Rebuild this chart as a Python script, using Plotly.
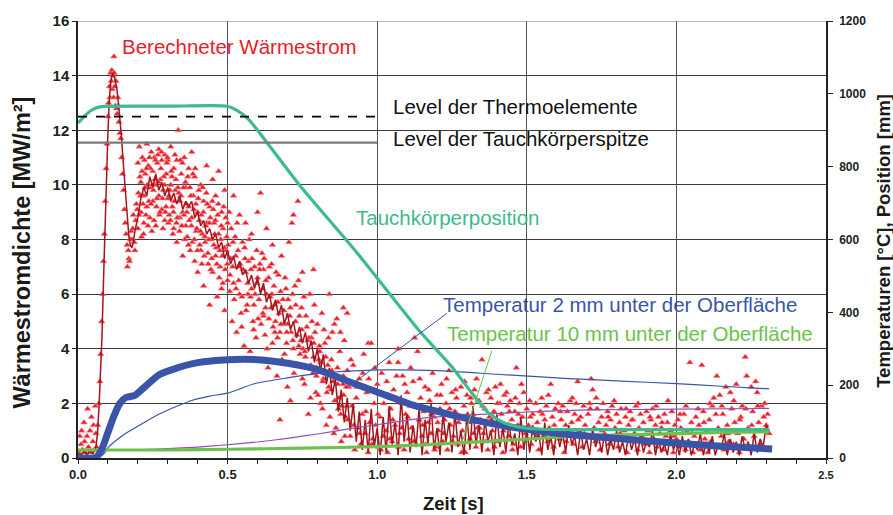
import plotly.graph_objects as go
import numpy as np

# ---------------- data ----------------
# calculated heat flux, smoothed line (t [s], q [MW/m2])
hf_line = [(0.00,0.15),(0.01,0.1),(0.02,0.25),(0.03,0.1),(0.04,0.3),(0.05,0.15),(0.06,0.4),(0.065,0.9),(0.07,1.8),(0.075,3.0),
    (0.08,4.4),(0.085,6.4),(0.09,8.4),(0.095,10.2),(0.10,11.9),(0.105,13.2),(0.11,13.8),(0.115,14.1),(0.12,14.0),(0.125,13.8),
    (0.13,13.5),(0.135,13.0),(0.14,12.5),(0.145,11.8),(0.15,11.0),(0.155,10.2),(0.16,9.4),(0.165,8.6),(0.17,8.1),(0.175,7.8),
    (0.18,7.7),(0.185,7.9),(0.19,8.3),(0.20,8.8),(0.21,9.5),(0.22,9.9),(0.23,9.6),(0.24,10.3),(0.25,9.9),(0.26,10.4),
    (0.27,9.8),(0.28,10.1),(0.29,9.6),(0.30,9.9),(0.31,9.4),(0.32,9.7),(0.33,9.3),(0.34,9.6),(0.35,9.1),(0.36,9.4),
    (0.37,9.2),(0.38,9.4),(0.39,8.8),(0.40,9.0),(0.41,8.5),(0.42,8.7),(0.43,8.2),(0.44,8.4),(0.45,8.0),(0.46,8.2),
    (0.47,7.7),(0.48,7.9),(0.49,7.3),(0.50,7.6),(0.51,7.1),(0.52,7.4),(0.53,6.9),(0.54,7.2),(0.55,6.7),(0.56,6.9),
    (0.57,6.4),(0.58,6.7),(0.59,6.2),(0.60,6.6),(0.61,6.0),(0.62,6.4),(0.63,5.7),(0.64,6.0),(0.65,5.4),(0.66,5.8),
    (0.67,5.2),(0.68,5.6),(0.69,4.9),(0.70,5.3),(0.71,4.7),(0.72,5.0),(0.73,4.4),(0.74,4.8),(0.75,4.2),(0.76,4.6),
    (0.77,3.9),(0.78,4.3),(0.79,3.5),(0.80,4.0),(0.81,3.2),(0.82,3.8),(0.83,2.7),(0.84,3.3),(0.85,2.3),(0.86,2.9),
    (0.87,1.7),(0.88,2.5),(0.89,1.3),(0.90,2.2),(0.91,1.0),(0.92,2.0),(0.93,0.6),(0.94,1.7),(0.95,0.3),(0.96,1.4),
    (0.97,0.2),(0.98,1.8),(0.99,0.4),(1.00,1.1),(1.01,0.1),(1.02,1.5),(1.03,0.2),(1.04,1.9),(1.05,0.5),(1.06,1.3),
    (1.07,0.1),(1.08,2.3),(1.09,0.6),(1.10,1.6),(1.11,0.2),(1.12,1.2),(1.13,0.4),(1.14,1.8),(1.15,0.1),(1.16,1.4),
    (1.17,0.5),(1.18,2.0),(1.19,0.3),(1.20,1.1),(1.21,0.1),(1.22,1.6),(1.23,0.6),(1.24,1.3),(1.25,0.2),(1.26,1.7),
    (1.27,0.4),(1.28,1.0),(1.29,0.1),(1.30,1.5),(1.31,0.3),(1.32,1.9),(1.33,0.5),(1.34,1.2),(1.35,0.2),(1.36,1.4),
    (1.37,0.6),(1.38,1.0),(1.39,0.1),(1.40,1.6),(1.41,0.4),(1.42,1.1),(1.43,0.2),(1.44,1.3),(1.45,0.5),(1.46,0.9),
    (1.47,0.1),(1.48,1.5),(1.49,0.3),(1.50,1.0),(1.51,0.2),(1.52,1.2),(1.53,0.6),(1.54,0.9),(1.55,0.1),(1.56,1.3),
    (1.57,0.3),(1.58,0.8),(1.59,0.1),(1.60,1.1),(1.61,0.4),(1.62,0.9),(1.63,0.2),(1.64,1.2),(1.65,0.5),(1.66,0.8),
    (1.67,0.1),(1.68,1.0),(1.69,0.3),(1.70,0.7),(1.71,0.1),(1.72,1.1),(1.73,0.4),(1.74,0.8),(1.75,0.2),(1.76,0.9),
    (1.77,0.1),(1.78,0.7),(1.79,0.3),(1.80,1.0),(1.81,0.2),(1.82,0.6),(1.83,0.1),(1.84,0.9),(1.85,0.3),(1.86,0.7),
    (1.87,0.1),(1.88,0.8),(1.89,0.2),(1.90,0.6),(1.91,0.4),(1.92,1.0),(1.93,0.1),(1.94,0.7),(1.95,0.2),(1.96,0.5),
    (1.97,0.1),(1.98,0.9),(1.99,0.3),(2.00,0.6),(2.01,0.1),(2.02,0.8),(2.03,0.2),(2.04,0.7),(2.05,0.1),(2.06,0.5),
    (2.07,0.3),(2.08,0.9),(2.09,0.1),(2.10,0.6),(2.11,0.2),(2.12,0.8),(2.13,0.1),(2.14,0.5),(2.15,0.3),(2.16,0.9),
    (2.17,0.1),(2.18,0.7),(2.19,0.2),(2.20,0.6),(2.21,0.1),(2.22,0.8),(2.23,0.3),(2.24,0.6),(2.25,0.1),(2.26,0.9),
    (2.27,0.2),(2.28,0.7),(2.29,0.4),(2.30,1.2),(2.31,1.0)]

# calculated heat flux, raw points (t [s], q [MW/m2])
hf_points = [
    (0.003,0.2),(0.006,0.8),(0.008,0.1),(0.01,0.5),(0.012,1.0),(0.015,0.3),(0.02,1.3),(0.022,0.6),(0.025,0.2),(0.03,0.8),
    (0.032,1.8),(0.035,0.4),(0.04,1.0),(0.042,0.2),(0.045,1.5),(0.05,0.6),(0.052,1.2),(0.055,0.3),(0.058,1.9),(0.06,0.9),
    (0.062,0.4),(0.066,1.2),(0.07,2.0),(0.073,2.8),(0.076,3.8),(0.079,5.0),(0.082,6.0),(0.085,7.2),(0.088,8.2),(0.091,9.4),
    (0.094,10.6),(0.097,11.5),(0.10,12.5),(0.102,13.0),(0.105,13.6),(0.107,13.2),(0.109,14.1),(0.111,13.8),(0.113,14.2),(0.115,13.5),
    (0.117,14.0),(0.119,13.2),(0.12,14.7),(0.121,14.1),(0.123,13.6),(0.125,12.9),(0.127,13.8),(0.129,12.8),(0.131,12.6),(0.133,13.2),
    (0.135,12.9),(0.137,12.3),(0.14,11.9),(0.143,11.7),(0.146,11.0),(0.149,10.4),(0.152,9.8),(0.155,9.1),(0.158,8.6),(0.161,8.2),
    (0.164,7.8),(0.165,7.0),(0.168,7.6),(0.17,7.3),(0.172,7.2),(0.175,8.0),(0.178,8.3),(0.18,8.0),(0.185,8.9),(0.19,7.6),
    (0.195,9.3),(0.20,8.4),(0.20,10.8),(0.205,11.4),(0.21,9.0),(0.21,10.1),(0.215,11.0),(0.22,9.6),(0.22,8.6),(0.225,10.4),
    (0.23,11.5),(0.23,9.2),(0.235,10.7),(0.24,9.9),(0.24,8.8),(0.245,11.2),(0.25,10.5),(0.25,9.4),(0.255,11.0),(0.26,10.0),
    (0.26,8.5),(0.265,10.8),(0.27,9.6),(0.27,11.3),(0.275,10.2),(0.28,9.1),(0.28,10.9),(0.285,9.8),(0.29,11.1),(0.29,8.7),
    (0.295,10.4),(0.30,9.5),(0.30,10.9),(0.305,8.9),(0.31,11.4),(0.31,10.0),(0.315,9.2),(0.32,10.6),(0.32,8.4),(0.325,9.8),
    (0.33,10.9),(0.33,7.9),(0.335,12.0),(0.34,9.4),(0.34,8.8),(0.345,10.4),(0.35,9.0),(0.35,7.4),(0.355,11.0),(0.36,8.5),
    (0.36,9.9),(0.365,8.1),(0.37,10.6),(0.37,9.2),(0.375,7.6),(0.38,11.2),(0.38,8.8),(0.385,9.6),(0.39,7.2),(0.39,10.3),
    (0.395,8.3),(0.40,9.0),(0.40,6.8),(0.405,8.7),(0.41,10.0),(0.41,7.6),(0.415,8.2),(0.42,9.4),(0.42,6.3),(0.425,7.9),
    (0.43,10.7),(0.43,8.6),(0.435,7.1),(0.44,9.2),(0.44,5.6),(0.445,8.0),(0.45,10.2),(0.45,6.8),(0.455,8.6),(0.46,7.4),
    (0.46,9.6),(0.465,5.9),(0.47,8.2),(0.47,10.5),(0.475,7.0),(0.48,9.0),(0.48,6.2),(0.485,8.4),(0.49,9.8),(0.49,5.4),
    (0.495,7.6),(0.50,8.6),(0.50,6.5),(0.505,9.0),(0.51,7.3),(0.515,5.0),(0.52,9.6),(0.52,6.4),(0.525,8.1),(0.53,4.6),
    (0.535,7.6),(0.54,8.9),(0.54,6.0),(0.545,5.3),(0.55,7.9),(0.555,4.1),(0.56,6.8),(0.56,8.6),(0.565,5.6),(0.57,7.2),
    (0.575,3.9),(0.58,6.2),(0.58,8.2),(0.585,5.0),(0.59,7.0),(0.595,4.4),(0.60,6.6),(0.60,9.0),(0.605,5.8),(0.61,9.7),
    (0.61,3.6),(0.615,7.5),(0.62,5.2),(0.62,6.9),(0.625,4.5),(0.63,8.4),(0.63,6.0),(0.635,3.3),(0.64,7.0),(0.645,5.5),
    (0.65,4.2),(0.65,7.8),(0.655,6.3),(0.66,5.0),(0.665,3.0),(0.67,6.7),(0.675,1.4),(0.675,4.6),(0.68,7.4),(0.685,5.8),
    (0.69,3.8),(0.695,6.2),(0.70,4.9),(0.70,2.6),(0.705,7.9),(0.71,5.5),(0.71,2.1),(0.715,8.6),(0.72,8.9),(0.72,4.0),
    (0.725,6.3),(0.73,3.4),(0.735,9.4),(0.74,5.2),(0.745,4.3),(0.75,6.8),(0.75,2.9),(0.755,5.9),(0.76,3.7),(0.765,4.8),
    (0.77,1.6),(0.775,6.0),(0.78,4.4),(0.785,3.1),(0.787,6.9),(0.79,5.6),(0.795,2.4),(0.80,4.9),(0.805,3.6),(0.81,2.0),
    (0.815,5.3),(0.82,2.9),(0.825,4.2),(0.83,1.2),(0.835,3.4),(0.84,6.0),(0.845,2.5),(0.85,4.6),(0.855,0.9),(0.86,3.0),
    (0.865,5.1),(0.87,1.8),(0.875,3.9),(0.88,0.6),(0.885,2.7),(0.887,5.5),(0.89,4.3),(0.895,1.5),(0.90,3.2),(0.90,5.3),
    (0.905,2.6),(0.91,0.8),(0.915,1.9),(0.92,3.4),(0.925,0.3),(0.93,2.2),(0.935,1.1),(0.94,2.9),(0.945,0.5),(0.95,1.6),
    (0.955,3.8),(0.96,0.9),(0.965,2.4),(0.97,0.2),(0.97,4.2),(0.975,1.3),(0.98,4.2),(0.985,0.7),(0.99,2.0),(0.995,1.2),
    (1.00,2.7),(1.005,0.4),(1.01,1.5),(1.015,3.1),(1.02,0.8),(1.025,2.3),(1.03,1.0),(1.035,0.2),(1.04,3.5),(1.045,1.8),
    (1.05,0.6),(1.055,2.5),(1.06,1.2),(1.065,3.0),(1.07,3.5),(1.07,4.0),(1.075,0.9),(1.08,2.0),(1.085,3.0),(1.09,0.3),
    (1.095,1.6),(1.10,2.4),(1.105,0.7),(1.11,1.9),(1.115,1.1),(1.12,2.8),(1.125,4.4),(1.13,0.5),(1.135,3.9),(1.14,1.4),
    (1.145,2.2),(1.15,0.8),(1.155,1.7),(1.16,2.6),(1.165,0.2),(1.17,1.3),(1.175,2.1),(1.18,0.9),(1.185,3.1),(1.19,1.5),
    (1.195,0.4),(1.20,2.3),(1.205,1.0),(1.21,1.8),(1.215,2.7),(1.22,0.6),(1.225,1.4),(1.23,2.0),(1.235,0.3),(1.24,3.2),
    (1.245,1.2),(1.25,2.4),(1.255,0.8),(1.26,1.7),(1.265,2.2),(1.27,0.5),(1.275,1.5),(1.28,2.6),(1.285,1.0),(1.29,1.9),
    (1.295,0.2),(1.30,2.3),(1.305,1.3),(1.31,0.7),(1.315,2.0),(1.32,1.6),(1.325,2.5),(1.33,0.4),(1.335,1.1),(1.34,2.1),
    (1.345,1.4),(1.35,3.6),(1.355,0.9),(1.36,1.8),(1.365,2.4),(1.37,0.3),(1.375,1.5),(1.38,2.2),(1.385,1.0),(1.39,1.7),
    (1.395,2.6),(1.40,0.6),(1.405,1.3),(1.41,2.0),(1.415,1.6),(1.42,0.2),(1.425,2.3),(1.43,1.1),(1.435,1.9),(1.44,0.8),
    (1.445,2.1),(1.45,1.4),(1.455,0.5),(1.46,1.7),(1.465,3.3),(1.47,1.2),(1.475,2.0),(1.48,0.4),(1.485,1.5),(1.49,2.4),
    (1.495,0.9),(1.50,1.8),(1.505,1.2),(1.51,2.1),(1.515,0.5),(1.52,1.6),(1.525,0.9),(1.53,2.0),(1.535,1.3),(1.54,0.3),
    (1.545,1.7),(1.55,2.2),(1.555,0.8),(1.56,1.4),(1.565,1.9),(1.57,0.6),(1.575,1.1),(1.58,2.7),(1.585,1.5),(1.59,0.4),
    (1.595,1.8),(1.60,1.0),(1.605,2.0),(1.61,0.7),(1.615,1.4),(1.62,1.9),(1.625,0.2),(1.63,1.2),(1.635,1.7),(1.64,0.9),
    (1.645,2.1),(1.65,1.3),(1.655,0.5),(1.66,1.6),(1.665,2.0),(1.67,2.8),(1.675,1.0),(1.68,1.5),(1.685,0.4),(1.69,1.9),
    (1.695,1.2),(1.70,0.8),(1.705,1.6),(1.71,2.0),(1.715,2.9),(1.72,2.5),(1.725,1.1),(1.73,0.6),(1.735,1.8),(1.74,1.3),
    (1.745,0.3),(1.75,1.5),(1.755,2.0),(1.76,0.9),(1.765,1.2),(1.77,1.7),(1.775,0.5),(1.78,1.4),(1.785,1.9),(1.79,0.8),
    (1.795,1.1),(1.80,1.6),(1.805,0.4),(1.81,1.3),(1.815,1.8),(1.82,0.7),(1.825,1.0),(1.83,1.5),(1.835,0.2),(1.84,1.2),
    (1.845,1.7),(1.85,0.6),(1.855,1.4),(1.86,0.9),(1.865,1.9),(1.87,0.3),(1.875,1.1),(1.88,1.6),(1.885,0.8),(1.89,1.3),
    (1.895,0.5),(1.90,1.7),(1.905,1.0),(1.91,0.2),(1.915,1.4),(1.92,1.8),(1.925,0.7),(1.93,1.2),(1.935,0.4),(1.94,1.5),
    (1.945,0.9),(1.95,1.1),(1.955,0.3),(1.96,1.6),(1.965,0.8),(1.97,1.3),(1.975,0.5),(1.98,1.0),(1.985,1.7),(1.99,0.2),
    (1.995,1.2),(2.00,0.7),(2.005,1.4),(2.01,0.4),(2.015,1.1),(2.02,0.9),(2.025,1.6),(2.03,0.3),(2.035,1.0),(2.04,0.6),
    (2.045,3.5),(2.05,1.3),(2.055,0.2),(2.06,0.8),(2.065,1.5),(2.07,0.5),(2.075,1.2),(2.08,0.3),(2.085,3.4),(2.09,1.7),
    (2.095,0.7),(2.10,1.0),(2.105,0.2),(2.11,1.4),(2.115,0.6),(2.12,1.9),(2.125,2.2),(2.13,0.4),(2.135,3.0),(2.14,1.1),
    (2.145,2.3),(2.15,0.8),(2.155,1.6),(2.16,0.3),(2.165,2.6),(2.17,1.2),(2.175,0.6),(2.18,2.4),(2.185,1.8),(2.19,0.5),
    (2.195,1.3),(2.20,2.7),(2.205,0.9),(2.21,0.2),(2.215,1.5),(2.22,1.9),(2.225,0.7),(2.23,3.7),(2.235,3.0),(2.24,1.1),
    (2.245,0.4),(2.25,2.6),(2.255,1.7),(2.26,0.8),(2.265,2.8),(2.27,2.4),(2.275,1.3),(2.28,0.5),(2.285,1.9),(2.29,1.0),
    (2.295,2.0),(2.30,1.2),(2.305,1.6),(2.31,0.9)]

# further raw points read from the denser parts of the cloud
hf_points_dense = [
    (0.202,9.7),(0.207,10.3),(0.212,8.1),(0.217,9.3),(0.222,10.9),(0.227,8.9),(0.232,10.0),(0.237,9.4),(0.242,10.6),(0.247,8.3),
    (0.252,9.8),(0.257,10.2),(0.262,9.2),(0.267,11.1),(0.272,8.9),(0.277,10.6),(0.282,9.5),(0.287,10.3),(0.292,9.0),(0.297,10.8),
    (0.302,8.6),(0.307,9.8),(0.312,10.5),(0.317,8.2),(0.322,9.4),(0.327,10.2),(0.332,8.8),(0.337,9.7),(0.342,10.9),(0.347,8.5),
    (0.352,9.9),(0.357,8.0),(0.362,9.3),(0.367,10.3),(0.372,8.7),(0.377,9.6),(0.382,7.9),(0.387,9.1),(0.392,10.6),(0.397,8.4),
    (0.402,9.5),(0.407,7.8),(0.412,8.9),(0.417,9.9),(0.422,7.4),(0.427,8.5),(0.432,9.3),(0.437,8.0),(0.442,8.8),(0.447,7.3),
    (0.452,9.1),(0.457,8.2),(0.462,7.7),(0.467,8.9),(0.472,6.6),(0.477,8.0),(0.482,7.4),(0.487,9.2),(0.492,6.9),(0.497,8.1),
    (0.502,7.8),(0.507,6.1),(0.512,8.4),(0.517,7.0),(0.522,5.8),(0.527,7.4),(0.532,8.6),(0.537,6.5),(0.542,7.1),(0.547,4.8),
    (0.552,6.9),(0.557,7.7),(0.562,5.4),(0.567,6.4),(0.572,8.0),(0.577,5.9),(0.582,7.3),(0.587,4.7),(0.592,6.0),(0.597,7.6),
    (0.602,5.1),(0.607,6.9),(0.612,4.9),(0.617,6.2),(0.622,7.3),(0.627,5.5),(0.632,4.0),(0.637,6.6),(0.642,5.9),(0.647,7.1),
    (0.652,4.8),(0.657,5.6),(0.662,6.8),(0.667,4.4),(0.672,5.3),(0.677,6.1),(0.682,3.6),(0.687,4.9),(0.692,6.6),(0.697,4.2),
    (0.702,5.8),(0.707,3.5),(0.712,4.6),(0.717,6.0),(0.722,3.1),(0.727,5.0),(0.732,4.5),(0.737,6.5),(0.742,3.8),(0.747,5.5),
    (0.752,4.0),(0.757,2.7),(0.762,5.2),(0.767,3.3),(0.772,4.4),(0.777,2.2),(0.782,5.0),(0.787,3.7),(0.792,4.6),(0.797,3.0),
    (0.802,2.3),(0.807,4.1),(0.812,3.5),(0.817,1.8),(0.822,4.7),(0.827,3.1),(0.832,2.4),(0.837,4.4),(0.842,1.5),(0.847,3.6),
    (0.852,2.8),(0.857,4.9),(0.862,1.1),(0.867,3.3),(0.872,2.2),(0.877,4.6),(0.882,1.9),(0.887,3.0),(0.892,0.8),(0.897,2.6),
    (0.902,1.4),(0.912,3.6),(0.922,1.2),(0.932,2.6),(0.942,0.9),(0.952,3.1),(0.962,1.7),(0.972,2.9),(0.982,0.5),(0.992,3.3),
    (1.002,1.6),(1.012,0.3),(1.022,2.0),(1.032,2.8),(1.042,0.7),(1.052,1.4),(1.062,2.2),(1.072,0.4),(1.082,1.1),(1.092,2.7),
    (1.102,1.5),(1.112,3.3),(1.122,0.6),(1.132,1.9),(1.142,2.9),(1.152,1.2),(1.162,0.5),(1.172,2.5),(1.182,1.6),(1.192,0.3),
    (1.202,1.3),(1.212,2.3),(1.222,0.9),(1.232,2.9),(1.242,1.8),(1.252,0.6),(1.262,2.5),(1.272,1.3),(1.282,0.2),(1.292,2.8),
    (1.302,1.6),(1.312,2.2),(1.322,0.9),(1.332,2.9),(1.342,1.1),(1.352,1.9),(1.362,0.6),(1.372,2.5),(1.382,1.4),(1.392,0.4),
    (1.402,2.0),(1.412,2.7),(1.422,1.0),(1.432,2.4),(1.442,1.7),(1.452,0.3),(1.462,2.2),(1.472,1.6),(1.482,2.7),(1.492,1.0),
    (1.512,1.5),(1.532,0.8),(1.552,1.6),(1.572,2.3),(1.592,1.2),(1.612,1.7),(1.632,0.6),(1.652,2.2),(1.672,1.4),(1.692,0.9),
    (1.712,1.8),(1.732,2.2),(1.752,1.0),(1.772,1.5),(1.792,2.1),(1.812,0.9),(1.832,1.8),(1.852,1.4),(1.872,2.0),(1.892,0.7),
    (1.912,1.5),(1.932,1.9),(1.952,1.3),(1.972,2.1),(1.992,0.8),(2.012,1.6),(2.032,1.9),(2.052,0.9),(2.072,1.8),(2.092,1.3),
    (2.112,2.0),(2.132,1.6),(2.152,1.9),(2.172,0.9),(2.192,2.1),(2.212,1.4),(2.232,1.8),(2.252,1.2),(2.272,1.9),(2.292,1.5),
    (0.183,8.4),(0.188,7.9),(0.193,8.7),(0.198,9.1),(0.204,8.9),(0.209,9.6),(0.214,10.5),(0.219,8.2),(0.224,9.9),(0.229,10.6),
    (0.234,8.5),(0.239,11.0),(0.244,9.3),(0.249,10.0),(0.254,8.7),(0.259,10.9),(0.264,9.5),(0.269,10.1),(0.274,9.0),(0.279,11.2),
    (0.284,8.4),(0.289,10.0),(0.294,9.2),(0.299,11.0),(0.304,9.6),(0.309,8.7),(0.314,10.3),(0.319,9.0),(0.324,11.1),(0.329,8.6),
    (0.334,9.9),(0.339,8.3),(0.344,9.6),(0.349,10.8),(0.354,8.9),(0.359,10.1),(0.364,9.0),(0.369,7.8),(0.374,9.9),(0.379,8.5),
    (0.384,10.4),(0.389,8.0),(0.394,9.3),(0.399,7.6),(0.404,9.8),(0.409,8.3),(0.414,7.1),(0.419,9.0),(0.424,8.1),(0.429,9.7),
    (0.434,7.5),(0.439,8.6),(0.444,6.9),(0.449,9.4),(0.454,7.8),(0.459,8.7),(0.464,7.1),(0.469,9.3),(0.474,7.6),(0.479,8.5),
    (0.484,6.4),(0.489,7.7),(0.494,8.8),(0.499,7.1),(0.508,6.7),(0.518,7.9),(0.528,6.2),(0.538,7.0),(0.548,5.9),(0.558,7.3),
    (0.568,6.0),(0.578,6.9),(0.588,5.6),(0.598,6.4),(0.608,7.1),(0.618,5.3),(0.628,6.5),(0.638,5.1),(0.648,6.0),(0.658,4.6),
    (0.668,5.7),(0.678,4.9),(0.688,5.4),(0.698,4.6),(0.708,5.2),(0.718,4.3),(0.728,5.6),(0.738,4.1),(0.748,4.7),(0.758,3.9),
    (0.768,4.3),(0.778,3.4),(0.788,4.2),(0.798,3.3),(0.808,3.9),(0.818,2.8),(0.828,3.7),(0.838,2.6),(0.848,3.2),(0.858,2.1),
    (0.868,2.7),(0.878,1.6),(0.888,2.3),(0.898,1.9)]

# probe position [mm]
probe_pos = [(0.0,920),(0.02,937),(0.04,952),(0.06,961),(0.08,965),(0.3,966),(0.5,966),(0.53,955),(0.57,930),(0.63,868),
    (0.74,750),(0.93,566),(1.14,350),(1.25,250),(1.31,185),(1.37,125),(1.42,98),(1.48,84),(1.55,79),(1.7,78),(2.0,78),(2.31,78)]
# temperature 2 mm below surface [°C]
temp_2mm = [(0.0,0),(0.06,2),(0.08,25),(0.10,70),(0.12,115),(0.14,150),(0.16,166),(0.19,172),(0.22,193),(0.27,228),
    (0.33,247),(0.40,262),(0.50,270),(0.60,270),(0.70,260),(0.80,243),(0.87,222),(0.92,205),(1.03,172),(1.12,145),
    (1.24,120),(1.35,100),(1.47,82),(1.60,68),(1.75,57),(1.90,47),(2.05,38),(2.20,30),(2.32,25)]
# further thermocouple (thin blue) [°C]
temp_tc_a = [(0.0,0),(0.07,2),(0.09,15),(0.10,28),(0.13,50),(0.16,68),(0.22,97),(0.27,120),(0.33,142),(0.38,158),
    (0.44,170),(0.50,178),(0.59,204),(0.70,220),(0.81,233),(0.92,239),(1.03,242),(1.20,240),(1.40,230),(1.64,218),
    (1.80,212),(2.00,204),(2.15,197),(2.31,190)]
# further thermocouple (purple) [°C]
temp_tc_b = [(0.0,22),(0.2,23),(0.3,26),(0.4,30),(0.48,35),(0.6,44),(0.7,54),(0.8,66),(0.92,82),(1.03,95),(1.12,106),
    (1.2,113),(1.3,118),(1.42,123),(1.55,128),(1.7,132),(2.0,134),(2.31,136)]
# temperature 10 mm below surface [°C]
temp_10mm = [(0.0,22),(0.3,22),(0.5,24),(0.75,27),(1.0,31),(1.2,38),(1.35,45),(1.5,52),(1.65,59),(1.8,63),(2.0,67),
    (2.15,70),(2.31,72)]

level_thermo = 12.5      # MW/m2 scale
level_tip = 11.55
level_end_t = 1.0

x_ticks = [0.0, 0.5, 1.0, 1.5, 2.0, 2.5]
y_ticks = [0, 2, 4, 6, 8, 10, 12, 14, 16]
y2_ticks = [0, 200, 400, 600, 800, 1000, 1200]

# ---------------- figure ----------------
def xy(pairs):
    return [p[0] for p in pairs], [p[1] for p in pairs]

FONT = "Liberation Sans, Arial, Helvetica, sans-serif"
RED = "#e8202a"
DARKRED = "#a3161c"
TEAL = "#3dbb8c"
BLUE = "#3a55a7"
GREEN = "#6cc24a"
PURPLE = "#8e4fb2"

fig = go.Figure()

px_, py_ = xy(hf_points + hf_points_dense)
fig.add_trace(go.Scatter(x=px_, y=py_, mode="markers", yaxis="y",
                         marker=dict(symbol="triangle-up", size=6, color=RED, line=dict(width=0.6, color="#f39aa0"))))
lx, ly = xy(hf_line)
fig.add_trace(go.Scatter(x=lx, y=ly, mode="lines", yaxis="y", line=dict(color=DARKRED, width=1.5)))

for pairs, col, w in [(temp_tc_b, PURPLE, 1.2), (temp_tc_a, BLUE, 1.2), (temp_10mm, GREEN, 3.2),
                      (temp_2mm, BLUE, 7), (probe_pos, TEAL, 3.2)]:
    tx, ty = xy(pairs)
    fig.add_trace(go.Scatter(x=tx, y=ty, mode="lines", yaxis="y2", line=dict(color=col, width=w, shape="spline", smoothing=0.6)))

shapes = [
    dict(type="line", xref="x", yref="y", x0=0, x1=level_end_t, y0=level_thermo, y1=level_thermo,
         line=dict(color="black", width=1.6, dash="dash")),
    dict(type="line", xref="x", yref="y", x0=0, x1=level_end_t, y0=level_tip, y1=level_tip,
         line=dict(color="#7a7a7a", width=2.2)),
    dict(type="line", xref="x", yref="y", x0=0, x1=2.5, y0=16, y1=16, line=dict(color="#7a7a7a", width=1)),
]
# leader lines from labels to curves
t2x, t2y = xy(temp_2mm)
t10x, t10y = xy(temp_10mm)
lead_2mm_t = 0.92
lead_10mm_t = 1.283
shapes.append(dict(type="line", xref="x", yref="y", x0=1.233, y0=5.3, x1=lead_2mm_t,
                   y1=float(np.interp(lead_2mm_t, t2x, t2y)) / 75, line=dict(color=BLUE, width=1)))
shapes.append(dict(type="line", xref="x", yref="y", x0=1.383, y0=3.92, x1=lead_10mm_t,
                   y1=float(np.interp(lead_10mm_t, t10x, t10y)) / 75, line=dict(color=GREEN, width=1)))

ann = [
    dict(text="Berechneter Wärmestrom", x=0.14, y=15.05, color=RED),
    dict(text="Level der Thermoelemente", x=1.045, y=12.87, color="#111111"),
    dict(text="Level der Tauchkörperspitze", x=1.045, y=11.7, color="#111111"),
    dict(text="Tauchkörperposition", x=0.922, y=8.79, color=TEAL),
    dict(text="Temperatur 2 mm unter der Oberfläche", x=1.213, y=5.62, color=BLUE),
    dict(text="Temperatur 10 mm unter der Oberfläche", x=1.228, y=4.55, color=GREEN),
]
annotations = [dict(text=a["text"], x=a["x"], y=a["y"], xref="x", yref="y", showarrow=False,
                    xanchor="left", yanchor="middle", font=dict(family=FONT, size=20.5, color=a["color"]))
               for a in ann]
annotations += [
    dict(text="Wärmestromdichte [MW/m²]", xref="paper", yref="paper", x=0, y=0.47, xshift=-56,
         textangle=-90, showarrow=False, xanchor="center", yanchor="middle",
         font=dict(family=FONT, size=23.5, color="#1a1a1a", weight="bold")),
    dict(text="Temperaturen [°C], Position [mm]", xref="paper", yref="paper", x=1, y=0.497, xshift=58,
         textangle=-90, showarrow=False, xanchor="center", yanchor="middle",
         font=dict(family=FONT, size=18.5, color="#1a1a1a", weight="bold")),
    dict(text="Zeit [s]", xref="paper", yref="paper", x=0.502, y=0, yshift=-45,
         showarrow=False, xanchor="center", yanchor="middle",
         font=dict(family=FONT, size=18.5, color="#1a1a1a", weight="bold")),
]

x_ticktext = [f"{v:.1f}" for v in x_ticks]
x_ticktext[-1] = "<span style='font-size:11px'>2.5</span>"

fig.update_layout(
    width=893, height=515, margin=dict(l=78, r=67, t=17, b=57),
    plot_bgcolor="white", paper_bgcolor="white", showlegend=False,
    font=dict(family=FONT, color="#1a1a1a"),
    shapes=shapes, annotations=annotations,
    xaxis=dict(range=[0, 2.5], tickvals=x_ticks, ticktext=x_ticktext, showgrid=True, gridcolor="#555555", gridwidth=1,
               zeroline=False, showline=True, linecolor="#222222", linewidth=1.5, ticks="outside", ticklen=4,
               tickcolor="#222222", minor=dict(dtick=0.1, ticks="outside", ticklen=4, tickcolor="#222222", showgrid=False),
               tickfont=dict(family=FONT, size=13, weight="bold", color="#222222")),
    yaxis=dict(range=[0, 16], tickvals=y_ticks, showgrid=True, gridcolor="#3a3a3a", gridwidth=1, zeroline=False,
               showline=True, linecolor="#222222", linewidth=1.5, ticks="outside", ticklen=4, tickcolor="#222222",
               tickfont=dict(family=FONT, size=15, weight="bold", color="#222222")),
    yaxis2=dict(range=[0, 1200], tickvals=y2_ticks, overlaying="y", side="right", showgrid=False, zeroline=False,
                showline=True, linecolor="#222222", linewidth=1.5, ticks="outside", ticklen=5, tickcolor="#222222",
                ticklabelstandoff=4,
                tickfont=dict(family=FONT, size=12, weight="bold", color="#222222")),
)

fig.write_html("out.html", config={"displayModeBar": False},
               post_script="document.body.style.margin='0';document.body.style.overflow='hidden';")
